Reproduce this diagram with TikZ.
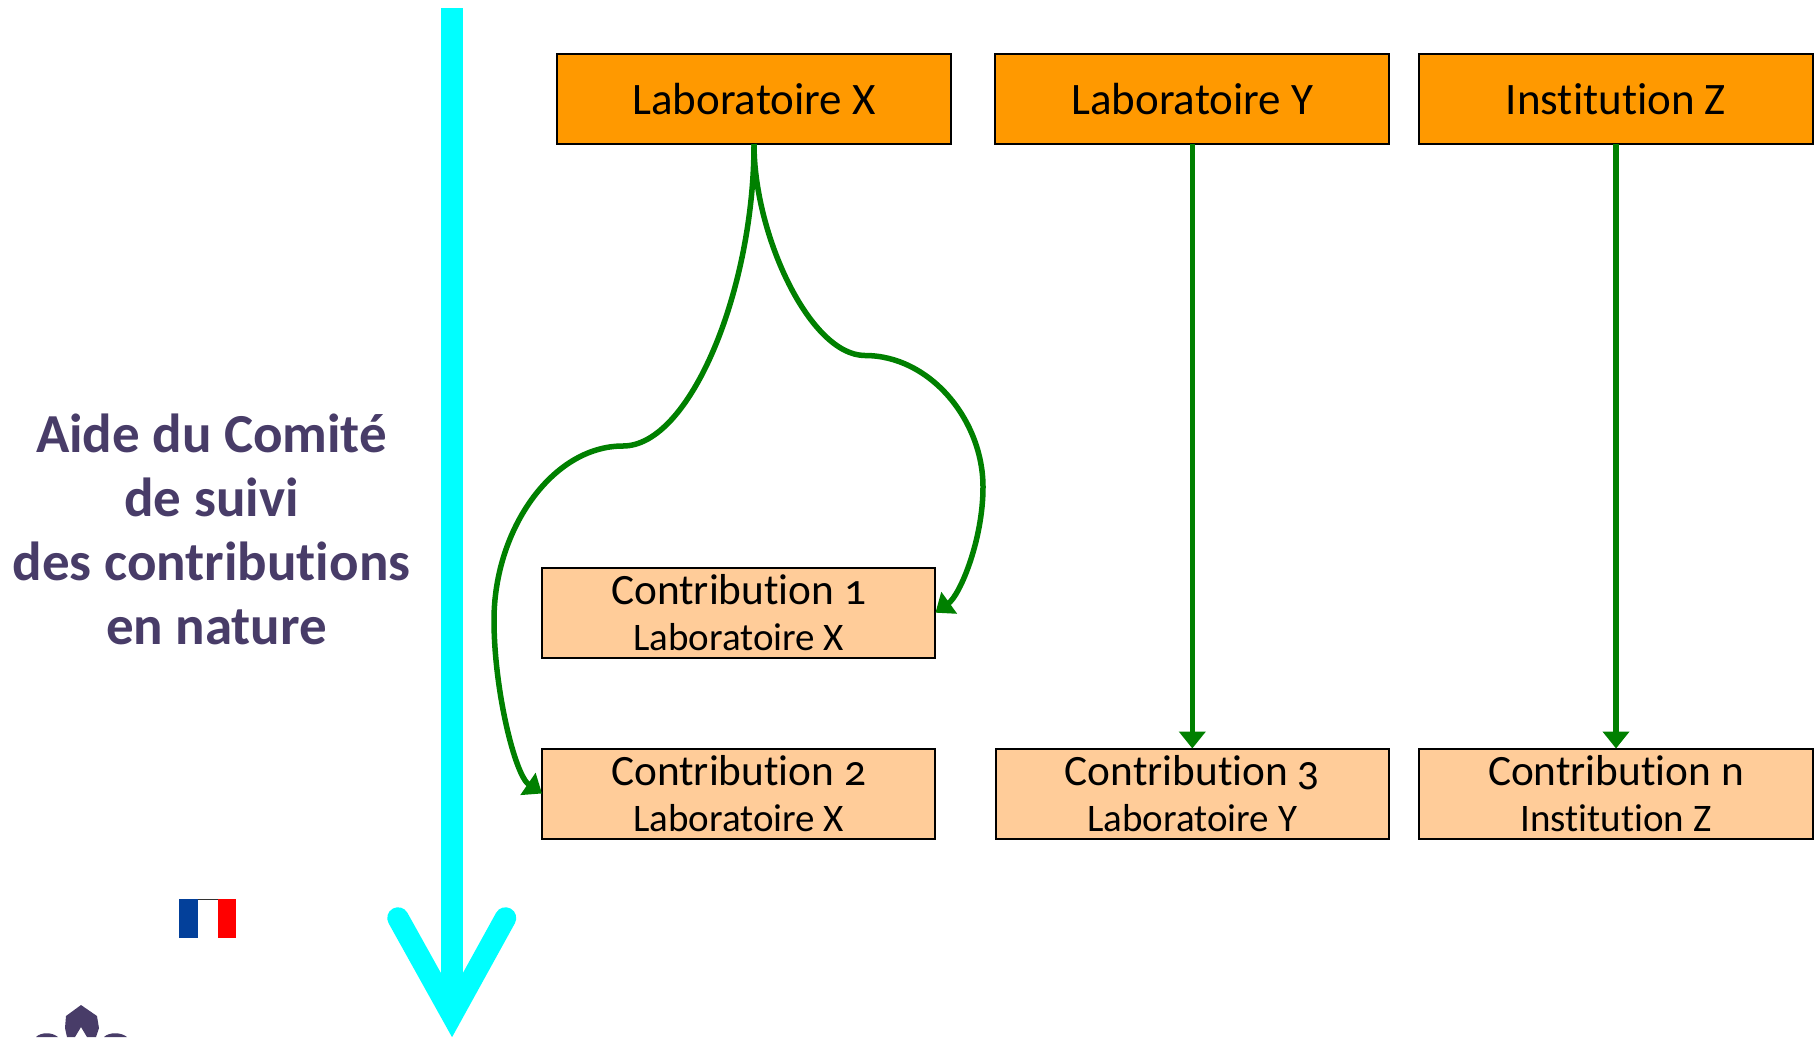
\documentclass[tikz,border=0pt]{standalone}
\usepackage{fontspec}
\setmainfont[Numbers=OldStyle,Ligatures=NoCommon]{Carlito}
\usetikzlibrary{arrows.meta}
\definecolor{orangeBox}{HTML}{FF9900}
\definecolor{peachBox}{HTML}{FFCC99}
\definecolor{linkGreen}{HTML}{008000}
\definecolor{axisCyan}{HTML}{00FFFF}
\definecolor{titleViolet}{HTML}{483C68}
\definecolor{flagBlue}{HTML}{03409A}
\tikzset{
  labbox/.style={draw=black,line width=2pt,fill=orangeBox,minimum width=394pt,minimum height=90pt,inner sep=0pt,outer sep=0pt,font=\fontsize{45}{46}\selectfont,text=black},
  contribbox/.style={draw=black,line width=2pt,fill=peachBox,minimum width=393.5pt,minimum height=90pt,inner sep=0pt,outer sep=0pt,align=center,font=\fontsize{43.3}{46}\selectfont,text=black},
  link/.style={draw=linkGreen,line width=5.5pt,-{Triangle[length=17pt,width=26pt]}},
  axisline/.style={draw=axisCyan,line width=21.5pt},
}
\newcommand{\contribtext}[2]{\raisebox{-1pt}{#1}\\[1pt]\fontsize{39}{46}\selectfont\raisebox{-0.5pt}{#2}}
\begin{document}
\begin{tikzpicture}[x=1pt,y=-1pt]
\useasboundingbox (0,0) rectangle (1814,1037);
% axis
\coordinate (axisTop) at (452,8);
\coordinate (axisEnd) at (452,1015);
\coordinate (armL) at (398,918);
\coordinate (armR) at (505.5,918);
\draw[axisline] (axisTop) -- (axisEnd);
\draw[axisline,line cap=round,miter limit=10] (armL) -- (axisEnd) -- (armR);
% title
\node[text=titleViolet,align=center,inner sep=0pt,font=\fontsize{55}{64}\selectfont\bfseries] (title) at (211.5,529)
 {Aide du Comité\\de suivi\\des contributions\\\hspace*{10pt}en nature};
% boxes
\node[labbox] (labx) at (754,99) {Laboratoire X};
\node[labbox] (laby) at (1192.3,99) {Laboratoire Y};
\node[labbox] (instz) at (1616,99) {Institution Z};
\node[contribbox] (c1) at (738.7,612.7) {\contribtext{Contribution 1}{Laboratoire X}};
\node[contribbox] (c2) at (738.7,793.5) {\contribtext{Contribution 2}{Laboratoire X}};
\node[contribbox] (c3) at (1192.3,793.5) {\contribtext{Contribution 3}{Laboratoire Y}};
\node[contribbox,minimum width=394pt] (cn) at (1616,793.5) {\contribtext{Contribution n}{Institution Z}};
% links
\draw[link] (laby.south) -- (c3.north);
\draw[link] (instz.south) -- (cn.north);
\coordinate (lm1) at (623,446);
\coordinate (lm2) at (494,620);
\draw[link] (labx.south) .. controls (754,290) and (690,446) .. (lm1)
  .. controls (552,446) and (494,530) .. (lm2)
  .. controls (494,690) and (515,775) .. (c2.west);
\coordinate (rm1) at (865,355.5);
\coordinate (rm2) at (983,487);
\draw[link] (labx.south) .. controls (754,235) and (810,355.5) .. (rm1)
  .. controls (930,355.5) and (983,420) .. (rm2)
  .. controls (983,540) and (960,595) .. (c1.east);
% flag
\fill[flagBlue] (179,899) rectangle (198,938);
\fill[red] (217.5,899) rectangle (236,938);
\draw[black!80,line width=1pt] (198,899.5) -- (217.5,899.5);
% logo fragment
\fill[titleViolet] (81,1005) -- (97,1016) -- (99,1028) -- (96,1037) -- (87,1037) -- (81,1027) -- (75,1037) -- (67,1037) -- (65,1028) -- (66,1016) -- cycle;
\fill[titleViolet] (36,1037) .. controls (41,1032) and (52,1032) .. (58,1037) -- cycle;
\fill[titleViolet] (104,1037) .. controls (109,1032) and (121,1032) .. (127,1037) -- cycle;
\end{tikzpicture}
\end{document}
